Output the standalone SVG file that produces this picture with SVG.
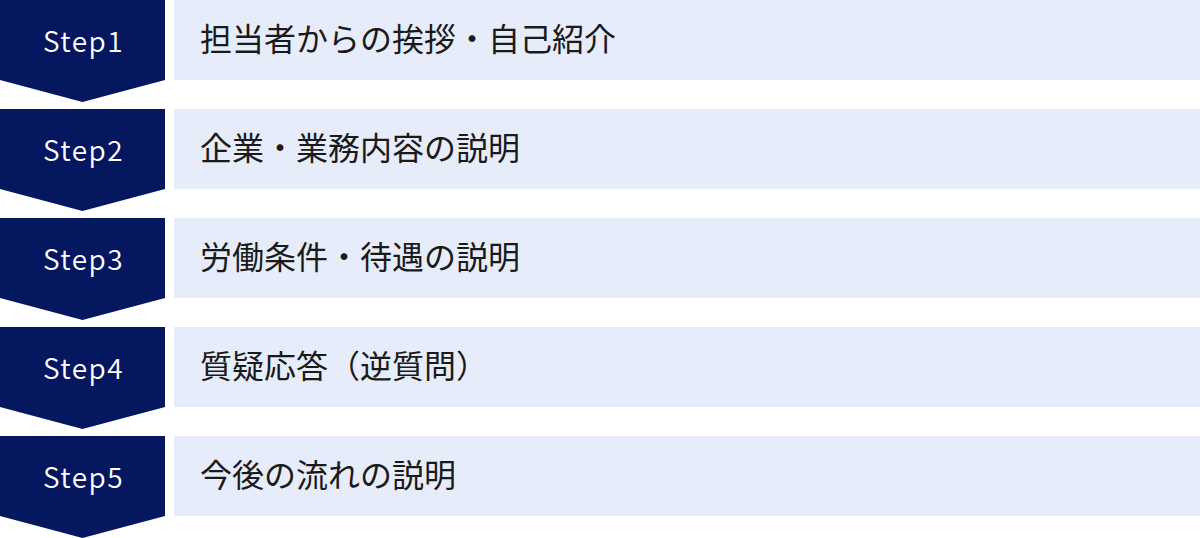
<svg xmlns="http://www.w3.org/2000/svg" width="1200" height="538" viewBox="0 0 1200 538">
<style>
.chev{fill:#05175F}
.box{fill:#E6ECF9}
.st{font-family:"Noto Sans CJK JP",sans-serif;font-size:28px;font-weight:350;fill:#FFFFFF;letter-spacing:1.5px;text-anchor:middle}
.lb{font-family:"Noto Sans CJK JP",sans-serif;font-size:32px;fill:#1A1A1A}
</style>
<defs>
<path id="chevron" d="M0 0H165V80L82.5 102L0 80Z"/>
</defs>
<rect width="1200" height="538" fill="#FFFFFF"/>
<g id="connectors"></g>
<g id="step1">
<use href="#chevron" class="chev"/>
<rect class="box" x="174" y="0" width="1026" height="80"/>
<text class="st" x="83.5" y="52">Step1</text>
<text class="lb" x="200" y="51">担当者からの挨拶・自己紹介</text>
</g>
<g id="step2" transform="translate(0,109)">
<use href="#chevron" class="chev"/>
<rect class="box" x="174" y="0" width="1026" height="80"/>
<text class="st" x="83.5" y="52">Step2</text>
<text class="lb" x="200" y="51">企業・業務内容の説明</text>
</g>
<g id="step3" transform="translate(0,218)">
<use href="#chevron" class="chev"/>
<rect class="box" x="174" y="0" width="1026" height="80"/>
<text class="st" x="83.5" y="52">Step3</text>
<text class="lb" x="200" y="51">労働条件・待遇の説明</text>
</g>
<g id="step4" transform="translate(0,327)">
<use href="#chevron" class="chev"/>
<rect class="box" x="174" y="0" width="1026" height="80"/>
<text class="st" x="83.5" y="52">Step4</text>
<text class="lb" x="200" y="51">質疑応答（逆質問）</text>
</g>
<g id="step5" transform="translate(0,436)">
<use href="#chevron" class="chev"/>
<rect class="box" x="174" y="0" width="1026" height="80"/>
<text class="st" x="83.5" y="52">Step5</text>
<text class="lb" x="200" y="51">今後の流れの説明</text>
</g>
</svg>
